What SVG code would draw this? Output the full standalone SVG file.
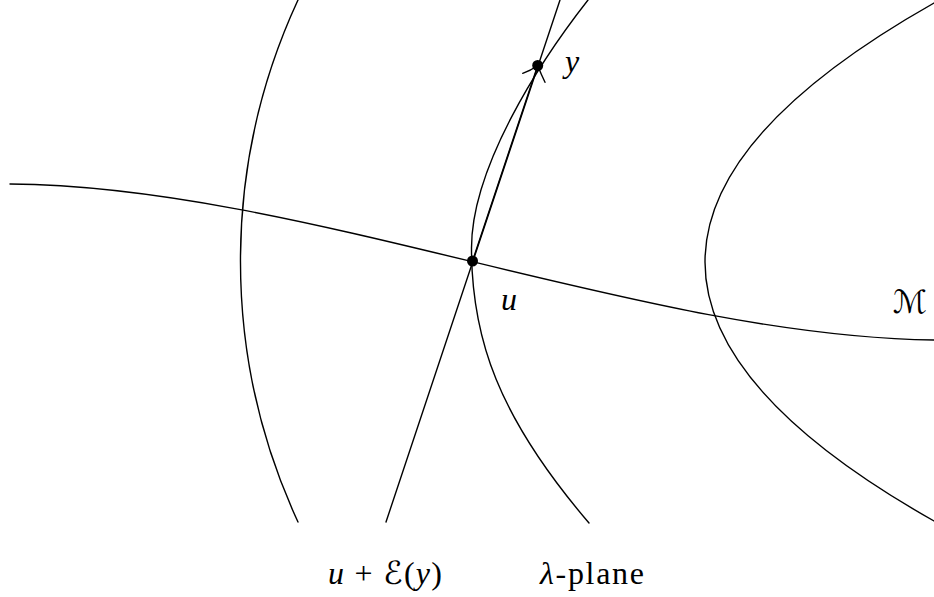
<svg xmlns="http://www.w3.org/2000/svg" width="934" height="597" viewBox="0 0 934 597">
<style>
.c{fill:none;stroke:#000;stroke-width:1.4;stroke-linecap:round}
.t{font-family:"Liberation Serif","DejaVu Serif",serif;font-size:32px;fill:#000}
.i{font-style:italic}
.cal{font-family:"DejaVu Serif","DejaVu Sans",serif;font-style:italic}
</style>
<rect width="934" height="597" fill="#fff"/>
<g id="connectors">
<path id="left-arc" class="c" d="M298,0 A620.8,620.8 0 0 0 298,522"/>
<path id="lambda-plane" class="c" d="M588,0 C538.6,63 471.5,168 471.5,248 C471.5,338 498,416.6 589,523"/>
<path id="manifold-M" class="c" d="M934,3 Q476,262 934,521"/>
<path id="horizontal-curve" class="c" d="M10,184 C300,186 640,336 934,340"/>
<path id="line-uEy" class="c" d="M386,522 L560,0"/>
<path id="arrow-u-y" class="c" stroke-width="1.8" d="M472.5,261 L537.7,65.5"/>
<path id="arrowhead" class="c" d="M522.7,73.3 Q531,70.5 537.7,65.5 Q541,74 545,82.3"/>
</g>
<g id="node-u">
<circle cx="472.5" cy="261" r="5.5" fill="#000"/>
<text class="t i" x="501" y="310">u</text>
</g>
<g id="node-y">
<circle cx="537.7" cy="65.5" r="5.5" fill="#000"/>
<text class="t i" x="565" y="72">y</text>
</g>
<g id="label-M">
<text class="t cal" x="893" y="313">ℳ</text>
</g>
<g id="label-uEy">
<text class="t" x="328" y="584" textLength="114" lengthAdjust="spacing"><tspan class="i">u</tspan> + <tspan class="cal">ℰ</tspan>(<tspan class="i">y</tspan>)</text>
</g>
<g id="label-lambda">
<text class="t" x="540" y="584" textLength="104" lengthAdjust="spacing"><tspan class="i">λ</tspan>-plane</text>
</g>
</svg>
